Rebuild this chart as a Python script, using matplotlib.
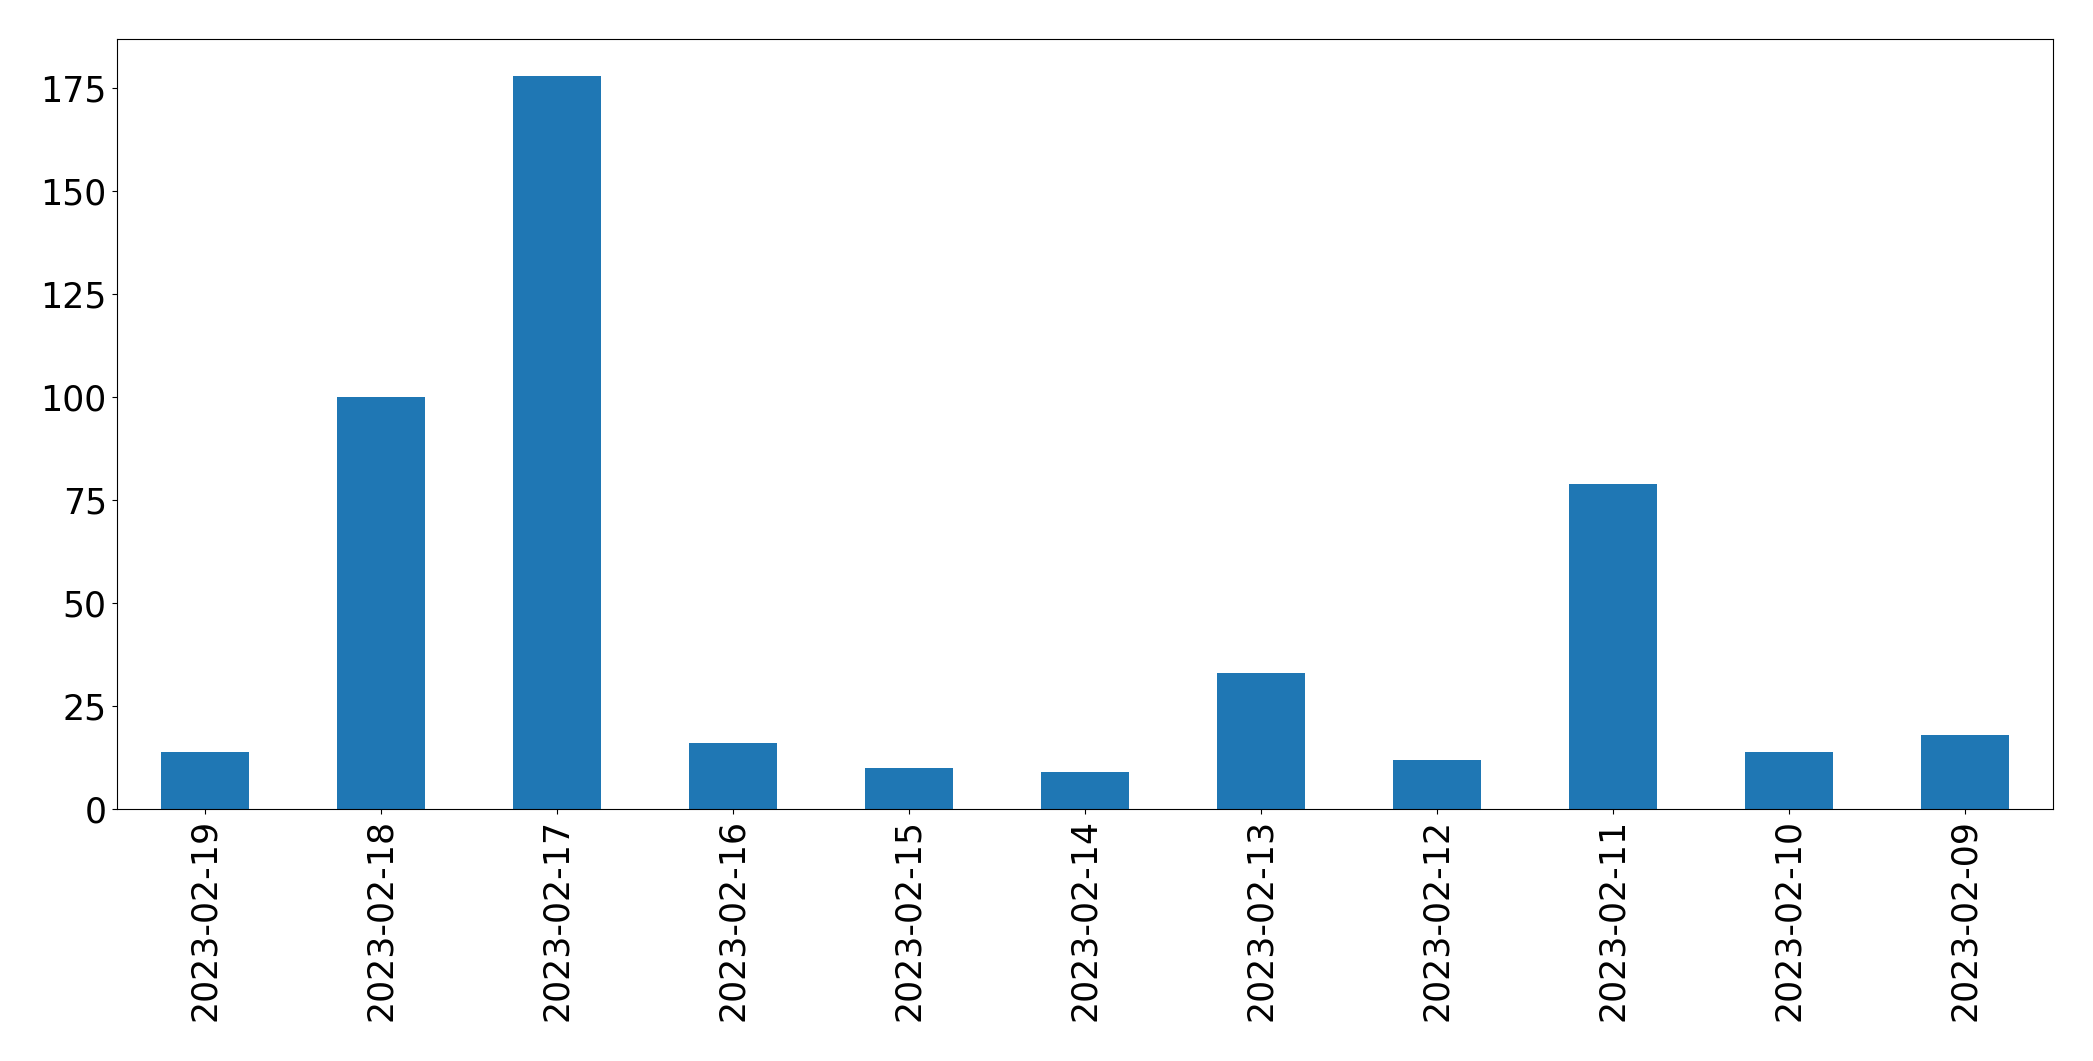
import matplotlib
matplotlib.use("Agg")
import matplotlib.pyplot as plt

dates = ["2023-02-19", "2023-02-18", "2023-02-17", "2023-02-16", "2023-02-15",
         "2023-02-14", "2023-02-13", "2023-02-12", "2023-02-11", "2023-02-10",
         "2023-02-09"]
counts = [14, 100, 178, 16, 10, 9, 33, 12, 79, 14, 18]

fig = plt.figure(figsize=(20.93, 10.61), dpi=100)
ax = fig.add_axes([116.5/2093, 1 - 809.3/1061, (2052.5-116.5)/2093, (809.3-39.3)/1061])
x = list(range(len(dates)))
ax.bar(x, counts, width=0.5, color="#1f77b4")
ax.set_xlim(-0.5, len(dates) - 0.5)
ax.set_ylim(0, max(counts) * 1.05)
ax.set_xticks(x)
ax.set_xticklabels(dates, rotation=90)
ax.set_yticks([0, 25, 50, 75, 100, 125, 150, 175])
ax.tick_params(axis="both", labelsize=25)
fig.savefig("out.png", dpi=100)
